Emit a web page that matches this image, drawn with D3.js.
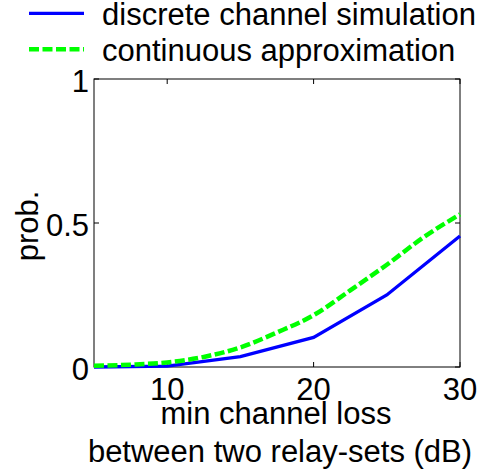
<!DOCTYPE html>
<html><head><meta charset="utf-8">
<script src="https://cdn.jsdelivr.net/npm/d3@7"></script>
<style>body{margin:0;background:#fff}svg{display:block;font-family:"Liberation Sans",Arial,sans-serif}</style>
</head><body><svg id="c" width="484" height="474"></svg>
<script>
const xTicks = [10, 20, 30];
const yTicks = [0, 0.5, 1];
const yTickLabels = ["0", "0.5", "1"];
const discreteX = [5, 10, 15, 20, 25, 30];
const discreteY = [0.0, 0.003, 0.036, 0.103, 0.25, 0.455];
const contX = [5, 7.5, 10, 12.5, 15, 17.5, 20, 22.5, 25, 27.5, 30];
const contY = [0.004, 0.008, 0.016, 0.035, 0.068, 0.12, 0.18, 0.266, 0.355, 0.45, 0.53];
const seriesNames = ["discrete channel simulation", "continuous approximation"];
const xLabel1 = "min channel loss";
const xLabel2 = "between two relay-sets (dB)";
const yLabel = "prob.";

const svg = d3.select("#c");
const L = 94, R = 460, T = 79, B = 367;
const x = d3.scaleLinear().domain([5, 30]).range([L, R]);
const y = d3.scaleLinear().domain([0, 1]).range([B, T]);
const fs = 31;

// frame
svg.append("rect").attr("x", L).attr("y", T).attr("width", R - L).attr("height", B - T)
  .attr("fill", "none").attr("stroke", "#000").attr("stroke-width", 1);

// ticks
const tl = 5;
xTicks.forEach(t => {
  svg.append("line").attr("x1", x(t)).attr("x2", x(t)).attr("y1", B).attr("y2", B - tl).attr("stroke", "#000");
  svg.append("line").attr("x1", x(t)).attr("x2", x(t)).attr("y1", T).attr("y2", T + tl).attr("stroke", "#000");
  svg.append("text").attr("x", x(t)).attr("y", B + 33).attr("text-anchor", "middle")
    .attr("font-size", fs).text(t);
});
yTicks.forEach((t, i) => {
  svg.append("line").attr("x1", L).attr("x2", L + tl).attr("y1", y(t)).attr("y2", y(t)).attr("stroke", "#000");
  svg.append("line").attr("x1", R).attr("x2", R - tl).attr("y1", y(t)).attr("y2", y(t)).attr("stroke", "#000");
  svg.append("text").attr("x", L - 5).attr("y", y(t) + 13).attr("text-anchor", "end")
    .attr("font-size", fs).text(yTickLabels[i]);
});

// lines
const line = d3.line().x(d => x(d[0])).y(d => y(d[1]));
const cline = d3.line().x(d => x(d[0])).y(d => y(d[1])).curve(d3.curveMonotoneX);
svg.append("path").datum(discreteX.map((v, i) => [v, discreteY[i]]))
  .attr("d", line).attr("fill", "none").attr("stroke", "#0000ff").attr("stroke-width", 3.3);
svg.append("path").datum(contX.map((v, i) => [v, contY[i]]))
  .attr("d", cline).attr("fill", "none").attr("stroke", "#00ff00").attr("stroke-width", 4.5)
  .attr("stroke-dasharray", "10,3.5");

// labels
svg.append("text").attr("x", 276).attr("y", 424).attr("text-anchor", "middle").attr("font-size", fs).text(xLabel1);
svg.append("text").attr("x", 280).attr("y", 462).attr("text-anchor", "middle").attr("font-size", fs).text(xLabel2);
svg.append("text").attr("transform", "translate(38,226) rotate(-90)").attr("text-anchor", "middle")
  .attr("font-size", fs).text(yLabel);

// legend
const lg = [{c: "#0000ff", w: 3.3, d: null, y: 13.3}, {c: "#00ff00", w: 4.5, d: "10,3.5", y: 49.3}];
lg.forEach((g, i) => {
  const ln = svg.append("line").attr("x1", 29).attr("x2", 84).attr("y1", g.y).attr("y2", g.y)
    .attr("stroke", g.c).attr("stroke-width", g.w);
  if (g.d) ln.attr("stroke-dasharray", g.d);
  svg.append("text").attr("x", 102).attr("y", g.y + 12).attr("font-size", fs).text(seriesNames[i]);
});
</script></body></html>
